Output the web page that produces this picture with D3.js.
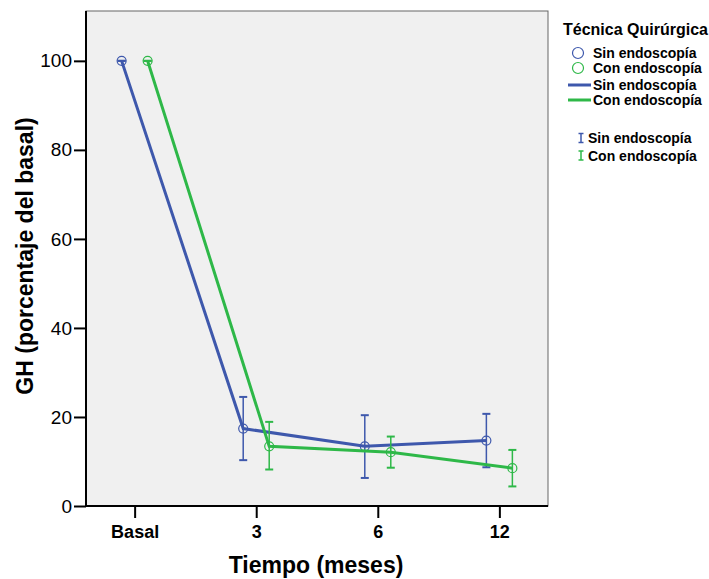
<!DOCTYPE html>
<html>
<head>
<meta charset="utf-8">
<script src="https://cdn.jsdelivr.net/npm/d3@7"></script>
<style>
body { margin: 0; background: #fff; }
text { font-family: "Liberation Sans", Arial, sans-serif; }
</style>
</head>
<body>
<svg width="709" height="579"></svg>
<script>
// data
const times = ["Basal", "3", "6", "12"]
const yTicks = [0, 20, 40, 60, 80, 100]
const groups = ["Sin endoscopía", "Con endoscopía"]
const colors = ["#3e58ac", "#2eb848"]
const sinMean = [100, 17.4, 13.4, 14.7]
const sinLow = [100, 10.3, 6.3, 8.7]
const sinHigh = [100, 24.5, 20.4, 20.7]
const conMean = [100, 13.4, 12.1, 8.5]
const conLow = [100, 8.2, 8.6, 4.4]
const conHigh = [100, 18.9, 15.6, 12.6]

const series = [
  {name: groups[0], color: colors[0], off: -13, mean: sinMean, lo: sinLow, hi: sinHigh},
  {name: groups[1], color: colors[1], off: 13, mean: conMean, lo: conLow, hi: conHigh}
]

const svg = d3.select('svg')
const pLeft = 86, pRight = 548, pTop = 11, pBottom = 506

const x = d3.scalePoint().domain(times).range([pLeft, pRight]).padding(0.4)
const y = d3.scaleLinear().domain([0, 111.2]).range([pBottom, pTop])

//plot background
svg.append('rect')
  .attr('x', pLeft).attr('y', pTop)
  .attr('width', pRight - pLeft).attr('height', pBottom - pTop)
  .style('fill', '#f0f0f0')
  .style('stroke', '#666')
  .style('stroke-width', 1)

//y axis
const yAxis = svg.append('g')
  .attr('transform', `translate(${pLeft},0)`)
  .call(d3.axisLeft(y).tickValues(yTicks).tickSize(12).tickPadding(2))
yAxis.select('.domain').attr('d', `M0,${pTop}V${pBottom}`).style('stroke-width', 2)
yAxis.selectAll('.tick line').style('stroke-width', 2)
yAxis.selectAll('.tick text').style('font-size', '19px').style('fill', '#000')

//x axis
const xAxis = svg.append('g')
  .attr('transform', `translate(0,${pBottom})`)
  .call(d3.axisBottom(x).tickSize(12).tickPadding(7))
xAxis.select('.domain').attr('d', `M${pLeft},0H${pRight}`).style('stroke-width', 2)
xAxis.selectAll('.tick line').style('stroke-width', 2)
xAxis.selectAll('.tick text').style('font-size', '18px').style('font-weight', 'bold').style('fill', '#000')

//axis titles
svg.append('text')
  .attr('x', 316).attr('y', 573)
  .attr('text-anchor', 'middle')
  .style('font-size', '23px').style('font-weight', 'bold')
  .text('Tiempo (meses)')

svg.append('text')
  .attr('transform', 'translate(33,256) rotate(-90)')
  .attr('text-anchor', 'middle')
  .style('font-size', '23px').style('font-weight', 'bold')
  .text('GH (porcentaje del basal)')

//series
series.forEach(s => {
  const g = svg.append('g')
  const px = t => x(t) + s.off
  const line = d3.line().x((d, i) => px(times[i])).y(d => y(d))
  g.append('path')
    .attr('d', line(s.mean))
    .style('fill', 'none')
    .style('stroke', s.color)
    .style('stroke-width', 3)

  times.forEach((t, i) => {
    const cx = px(t)
    g.append('line')
      .attr('x1', cx).attr('x2', cx)
      .attr('y1', y(s.lo[i])).attr('y2', y(s.hi[i]))
      .style('stroke', s.color).style('stroke-width', 1.5)
    ;[s.lo[i], s.hi[i]].forEach(v => {
      g.append('line')
        .attr('x1', cx - 4).attr('x2', cx + 4)
        .attr('y1', y(v)).attr('y2', y(v))
        .style('stroke', s.color).style('stroke-width', 2)
    })
    g.append('circle')
      .attr('cx', cx).attr('cy', y(s.mean[i]))
      .attr('r', 4.5)
      .style('fill', 'none')
      .style('stroke', s.color).style('stroke-width', 1.2)
  })
})

//legend
const lg = svg.append('g')
lg.append('text')
  .attr('x', 563).attr('y', 35)
  .style('font-size', '16px').style('font-weight', 'bold')
  .text('Técnica Quirúrgica')

series.forEach((s, i) => {
  const yc = 53 + i * 15
  lg.append('circle')
    .attr('cx', 578).attr('cy', yc).attr('r', 5.5)
    .style('fill', 'none').style('stroke', s.color).style('stroke-width', 1.2)
  lg.append('text')
    .attr('x', 593).attr('y', yc + 5)
    .style('font-size', '14px').style('font-weight', 'bold')
    .text(s.name)

  const yl = 85 + i * 15
  lg.append('line')
    .attr('x1', 568).attr('x2', 591).attr('y1', yl).attr('y2', yl)
    .style('stroke', s.color).style('stroke-width', 3)
  lg.append('text')
    .attr('x', 593).attr('y', yl + 5)
    .style('font-size', '14px').style('font-weight', 'bold')
    .text(s.name)

  const ye = 138 + i * 17.5
  lg.append('line')
    .attr('x1', 581).attr('x2', 581).attr('y1', ye - 4.5).attr('y2', ye + 4.5)
    .style('stroke', s.color).style('stroke-width', 1.5)
  ;[ye - 4.5, ye + 4.5].forEach(v => {
    lg.append('line')
      .attr('x1', 578.5).attr('x2', 583.5).attr('y1', v).attr('y2', v)
      .style('stroke', s.color).style('stroke-width', 1.5)
  })
  lg.append('text')
    .attr('x', 588).attr('y', ye + 5)
    .style('font-size', '14px').style('font-weight', 'bold')
    .text(s.name)
})
</script>
</body>
</html>
